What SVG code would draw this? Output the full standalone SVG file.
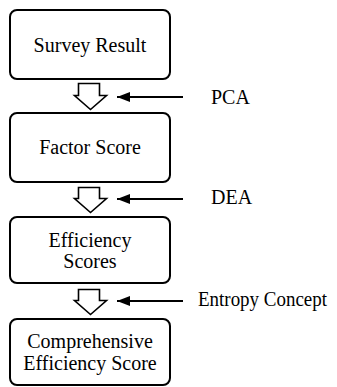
<svg xmlns="http://www.w3.org/2000/svg" width="337" height="387" viewBox="0 0 337 387">
<defs>
<style>
.box{fill:#fff;stroke:#000;stroke-width:2}
.blk{fill:#fff;stroke:#000;stroke-width:1.6;stroke-linejoin:miter}
.ln{stroke:#000;stroke-width:2;fill:none}
text{font-family:"Liberation Serif","Times New Roman",serif;font-size:20px;fill:#000}
.c{text-anchor:middle}
</style>
<marker id="ah" viewBox="0 0 13 10" refX="13" refY="5" markerWidth="13" markerHeight="10" markerUnits="userSpaceOnUse" orient="auto">
<path d="M0,0 L13,5 L0,10 z" fill="#000"/>
</marker>
</defs>
<rect width="337" height="387" fill="#fff"/>
<g id="n1"><rect class="box" x="10" y="10" width="160" height="69" rx="7"/><text class="c" x="90" y="52" font-family="Liberation Serif, serif">Survey Result</text></g>
<g id="n2"><rect class="box" x="10" y="113" width="160" height="69" rx="7"/><text class="c" x="90" y="154" font-family="Liberation Serif, serif">Factor Score</text></g>
<g id="n3"><rect class="box" x="10" y="217" width="160" height="66" rx="7"/><text class="c" x="90" y="247" font-family="Liberation Serif, serif">Efficiency</text><text class="c" x="90" y="268" font-family="Liberation Serif, serif">Scores</text></g>
<g id="n4"><rect class="box" x="10" y="319" width="160" height="66" rx="7"/><text class="c" x="90" y="348" font-family="Liberation Serif, serif">Comprehensive</text><text class="c" x="90" y="370" font-family="Liberation Serif, serif">Efficiency Score</text></g>
<g id="connectors">
<path class="blk" d="M78.5,83.5 H99.5 V95.5 H106.5 L90.5,109.5 L74.5,95.5 H78.5 Z"/>
<path class="blk" d="M78.5,187.5 H99.5 V198.5 H106.5 L90.5,212.5 L74.5,198.5 H78.5 Z"/>
<path class="blk" d="M78.5,289.5 H99.5 V300.5 H106.5 L90.5,314.5 L74.5,300.5 H78.5 Z"/>
<line class="ln" x1="183" y1="97" x2="117" y2="97" marker-end="url(#ah)"/>
<line class="ln" x1="183" y1="199" x2="117" y2="199" marker-end="url(#ah)"/>
<line class="ln" x1="183" y1="301" x2="117" y2="301" marker-end="url(#ah)"/>
</g>
<g id="labels">
<text x="211" y="104">PCA</text>
<text x="211" y="204">DEA</text>
<text x="198" y="306" textLength="129" lengthAdjust="spacingAndGlyphs">Entropy Concept</text>
</g>
</svg>
